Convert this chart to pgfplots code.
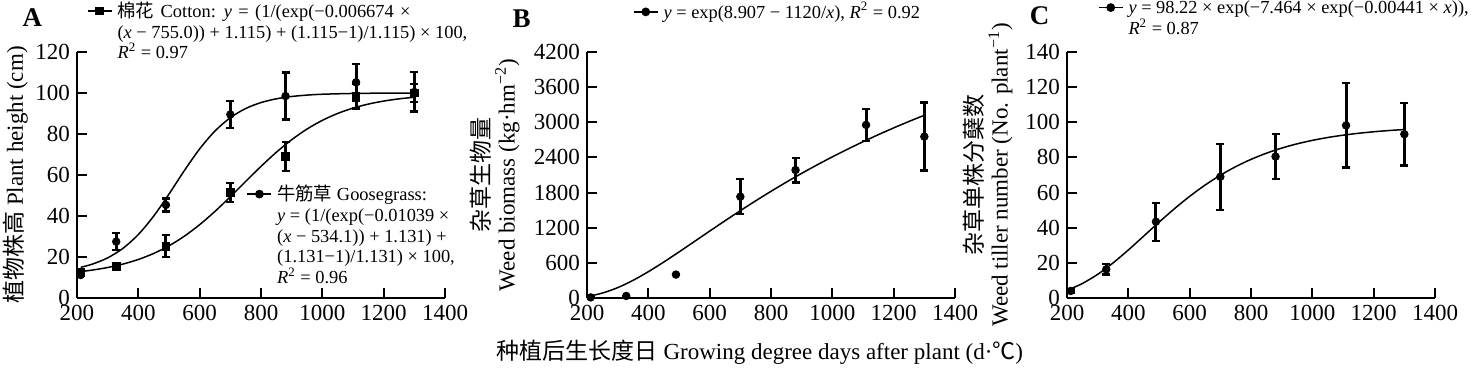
\documentclass[border=0pt]{standalone}
\usepackage{fontspec}
\setmainfont{Liberation Serif}
\newfontfamily\cjk{Noto Sans CJK SC}
\usepackage{pgfplots}
\pgfplotsset{compat=1.18}
\tikzset{letter/.style={font=\fontsize{13.5}{13.5}\selectfont\bfseries, anchor=base}}
\pgfplotsset{
  panel/.style={
    scale only axis, width=184pt, height=123pt,
    anchor=south west,
    xmin=200, xmax=1400, ymin=0,
    xtick={200,400,...,1400},
    axis x line*=bottom, axis y line*=left,
    axis line style={-, line width=1pt},
    tick align=inside, major tick length=5pt,
    tick style={black, line width=1pt},
    minor tick num=0,
    /pgf/number format/assume math mode=true,
    /pgf/number format/1000 sep={},
    scaled ticks=false,
    tick label style={font=\fontsize{11.5}{12}\selectfont, black},
    label style={font=\fontsize{11.5}{12.5}\selectfont},
    clip=false,
    legend cell align=left,
    legend image code/.code={\draw[mark repeat=2,mark phase=2,##1] plot coordinates {(0pt,0pt) (6pt,0pt) (12pt,0pt)};},
    legend style={draw=none, fill=none, anchor=north west, inner sep=0pt, outer sep=0pt, row sep=0pt, column sep=2.5pt,
       font=\fontsize{9.2}{10.4}\selectfont,
       nodes={inner sep=0pt, text height=8.4pt, text depth=2pt}},
  },
  fitline/.style={black, line width=0.75pt, smooth, no marks, forget plot},
  pts/.style={black, only marks, mark size=1.9pt, forget plot,
     error bars/y dir=both, error bars/y explicit,
     error bars/error bar style={line width=1.5pt},
     error bars/error mark options={rotate=90, line width=1.2pt, mark size=2pt}},
  legline/.style={black, line width=0.75pt, mark size=1.8pt},
}
\begin{document}
\begin{tikzpicture}
\useasboundingbox (0,0) rectangle (735.5pt,184pt);

% ---------------- Panel A ----------------
\begin{axis}[panel, at={(38.5pt,35pt)}, ymax=120, ytick={0,20,...,120},
  ylabel={{\cjk 植物株高} Plant height (cm)},
  ylabel style={at={(axis description cs:-0.1471,0.5)}, anchor=base},
  legend style={at={(0.0272,1.2093)}}]
\addplot[fitline] coordinates {
 (212,12.90) (250,13.62) (300,14.87) (350,16.55) (400,18.79) (450,21.72)
 (500,25.47) (550,30.14) (600,35.77) (650,42.26) (700,49.40) (750,56.85)
 (800,64.20) (850,71.09) (900,77.20) (950,82.41) (1000,86.65) (1050,90.02)
 (1100,92.62) (1150,94.59) (1200,96.06) (1250,97.14) (1300,97.93)};
\addplot[fitline] coordinates {
 (212,14.97) (250,16.52) (300,19.57) (350,24.24) (400,30.97) (450,39.94)
 (500,50.70) (550,62.12) (600,72.74) (650,81.47) (700,87.95) (750,92.42)
 (800,95.33) (850,97.16) (900,98.29) (950,98.97) (1000,99.39) (1100,99.78)
 (1200,99.92) (1300,99.97)};
\addplot[pts, mark=*] table[x=x, y=y, y error=e, row sep=\\] {
 x y e \\ 212 11.2 0.5 \\ 328 27.5 4.2 \\ 490 45.4 3.2 \\ 700 89.5 6.6 \\
 880 98.5 11.5 \\ 1110 105.2 9.0 \\ 1300 100.5 9.6 \\};
\addplot[pts, mark=square*] table[x=x, y=y, y error=e, row sep=\\] {
 x y e \\ 212 12.8 0.3 \\ 328 15.3 0.8 \\ 490 25.3 5.3 \\ 700 51.4 4.6 \\
 880 69.0 7.0 \\ 1110 98.5 6.0 \\ 1300 100.0 4.4 \\};
\addlegendimage{legline, mark=square*}
\addlegendentry{\spaceskip=3.2pt\relax{\cjk 棉花} Cotton: \textit{y} = (1/(exp(−0.006674 ×}
\addlegendimage{empty legend}
\addlegendentry{(\textit{x} − 755.0)) + 1.115) + (1.115−1)/1.115) × 100,}
\addlegendimage{empty legend}
\addlegendentry{\textit{R}\textsuperscript{2} = 0.97}
\node[letter] at (axis description cs:-0.121,1.1016) {A};
\end{axis}
\begin{axis}[panel, at={(38.5pt,35pt)}, ymax=120, hide axis,
  legend style={at={(0.4611,0.4646)}}]
\addlegendimage{legline, mark=*}
\addlegendentry{{\cjk 牛筋草} Goosegrass:}
\addlegendimage{empty legend}
\addlegendentry{\textit{y} = (1/(exp(−0.01039 ×}
\addlegendimage{empty legend}
\addlegendentry{(\textit{x} − 534.1)) + 1.131) +}
\addlegendimage{empty legend}
\addlegendentry{(1.131−1)/1.131) × 100,}
\addlegendimage{empty legend}
\addlegendentry{\textit{R}\textsuperscript{2} = 0.96}
\end{axis}

% ---------------- Panel B ----------------
\begin{axis}[panel, at={(293.5pt,35pt)}, ymax=4200, ytick={0,600,...,4200},
  ylabel={{\cjk 杂草生物量}\\Weed biomass (kg·hm\textsuperscript{−2})},
  ylabel style={at={(axis description cs:-0.25,0.5)}, anchor=center, align=center},
  xlabel={{\cjk 种植后生长度日} Growing degree days after plant (d·{\cjk ℃})},
  xlabel style={at={(axis description cs:0.470,-0.252)}, anchor=base},
  legend style={at={(0.125,1.2053)}}]
\addplot[fitline] coordinates {
 (212,37.5) (250,83.7) (300,176.5) (350,301.0) (400,449.0) (450,613.0)
 (500,786.3) (550,963.9) (600,1142.0) (650,1318.3) (700,1491.1) (750,1659.0)
 (800,1821.2) (850,1977.6) (900,2127.8) (950,2271.8) (1000,2409.5) (1050,2541.5)
 (1100,2667.7) (1150,2788.4) (1200,2904.0) (1250,3014.4) (1300,3120.0)};
\addplot[pts, mark=*] table[x=x, y=y, y error=e, row sep=\\] {
 x y e \\ 212 10 0 \\ 328 35 0 \\ 490 400 0 \\ 700 1730 300 \\
 880 2185 210 \\ 1110 2955 275 \\ 1300 2755 580 \\};
\addlegendimage{legline, mark=*}
\addlegendentry{\textit{y} = exp(8.907 − 1120/\textit{x}), \textit{R}\textsuperscript{2} = 0.92}
\node[letter] at (axis description cs:-0.178,1.1016) {B};
\end{axis}

% ---------------- Panel C ----------------
\begin{axis}[panel, at={(533.5pt,35pt)}, ymax=140, ytick={0,20,...,140},
  ylabel={{\cjk 杂草单株分蘖数}\\Weed tiller number (No. plant\textsuperscript{−1})},
  ylabel style={at={(axis description cs:-0.2147,0.5)}, anchor=center, align=center},
  legend style={at={(0.0842,1.2228)}}]
\addplot[fitline] coordinates {
 (212,5.24) (250,8.24) (300,13.45) (350,19.94) (400,27.33) (450,35.21)
 (500,43.13) (550,50.76) (600,57.85) (650,64.24) (700,69.87) (750,74.74)
 (800,78.89) (850,82.39) (900,85.30) (950,87.72) (1000,89.70) (1050,91.33)
 (1100,92.65) (1150,93.73) (1200,94.60) (1250,95.31) (1300,95.87)};
\addplot[pts, mark=*] table[x=x, y=y, y error=e, row sep=\\] {
 x y e \\ 212 4.0 0.8 \\ 328 16.3 3.0 \\ 490 43.4 10.8 \\ 700 69.0 18.8 \\
 880 80.5 12.8 \\ 1110 98.2 24.0 \\ 1300 93.2 17.8 \\};
\addlegendimage{legline, mark=*}
\addlegendentry{\textit{y} = 98.22 × exp(−7.464 × exp(−0.00441 × \textit{x})),}
\addlegendimage{empty legend}
\addlegendentry{\textit{R}\textsuperscript{2} = 0.87}
\node[letter] at (axis description cs:-0.0747,1.1098) {C};
\end{axis}
\end{tikzpicture}
\end{document}
